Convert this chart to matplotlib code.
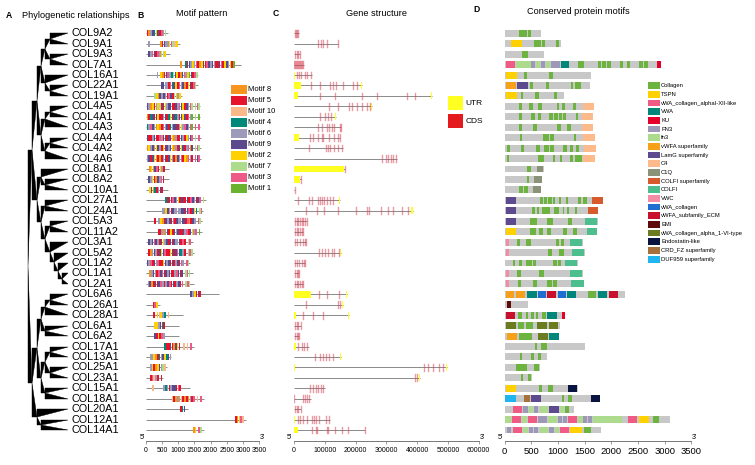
import matplotlib
matplotlib.use("Agg")
import matplotlib.pyplot as plt
from matplotlib.patches import Rectangle, Polygon
from matplotlib import font_manager as fm

# ---------------- data ----------------
genes = ["COL9A2", "COL9A1", "COL9A3", "COL7A1", "COL16A1", "COL22A1", "COL19A1",
         "COL4A5", "COL4A1", "COL4A3", "COL4A4", "COL4A2", "COL4A6", "COL8A1", "COL8A2",
         "COL10A1", "COL27A1", "COL24A1", "COL5A3", "COL11A2", "COL3A1", "COL5A2",
         "COL1A2", "COL1A1", "COL2A1", "COL6A6", "COL26A1", "COL28A1", "COL6A1", "COL6A2",
         "COL17A1", "COL13A1", "COL25A1", "COL23A1", "COL15A1", "COL18A1", "COL20A1",
         "COL12A1", "COL14A1"]

clade_9_16 = ((("COL9A2", "COL9A1"), ("COL9A3", "COL7A1")), ("COL16A1", ("COL22A1", "COL19A1")))
clade_4 = ((("COL4A5", "COL4A1"), "COL4A3"), (("COL4A4", "COL4A2"), "COL4A6"))
clade_8 = ("COL8A1", ("COL8A2", "COL10A1"))
clade_fib = (("COL27A1", "COL24A1"),
             (("COL5A3", "COL11A2"), ("COL3A1", ("COL5A2", ("COL1A2", ("COL1A1", "COL2A1"))))))
clade_6 = ((("COL6A6", "COL26A1"), "COL28A1"), ("COL6A1", "COL6A2"))
clade_13 = ((("COL17A1", "COL13A1"), ("COL25A1", "COL23A1")), ("COL15A1", "COL18A1"))
clade_20 = ("COL20A1", ("COL12A1", "COL14A1"))
tree = (((clade_9_16, clade_4), (clade_8, clade_fib)), ((clade_6, clade_13), clade_20))

protein_len = [690, 1055, 744, 2925, 1619, 1600, 1119, 1681, 1663, 1663, 1690, 1712, 1691,
               730, 703, 680, 1845, 1750, 1745, 1736, 1466, 1499, 1366, 1464, 1487, 2263,
               441, 1140, 1028, 1019, 1497, 790, 654, 520, 1375, 1781, 1294, 3100, 1800]

# motif blocks: (start aa, motif ids in order; '0' = Motif 10, '-' = gap)
motif_blocks = [
    [(30, "58694295367")],
    [(80, "6"), (440, "8596623702")],
    [(80, "9639536272")],
    [(1056, "8"), (1210, "4596263582953969655935296251")],
    [(340, "6"), (450, "285936479258936219537")],
    [(470, "99665349253698529537")],
    [(260, "728969653957262")],
    [(30, "96825627592699559639259637-737")],
    [(30, "85495925569542594659295361-7-1")],
    [(30, "46396828536954699562639631-3-3")],
    [(30, "95569553659595286559652693-7-3")],
    [(30, "82698296525969286592956389-737")],
    [(30, "69592858569592658963528365-393")],
    [(100, "828935265")],
    [(80, "962589635")],
    [(100, "29845695")],
    [(600, "45953962595595396593-7")],
    [(490, "66296596666995935924-73")],
    [(260, "5"), (390, "628596953596699538596-37")],
    [(370, "5568695259695596359263-1")],
    [(80, "969396592695959669535-73")],
    [(80, "586965929355295939465-737")],
    [(30, "963596355296959569536-37")],
    [(110, "8696539359695563959-737")],
    [(60, "69859593656935956953-737")],
    [(1380, "962595")],
    [(215, "532")],
    [(235, "5-20264-0")],
    [(270, "226945")],
    [(260, "952536")],
    [(575, "455958925"), (1150, "0-0-3")],
    [(130, "662854692496")],
    [(130, "625829670")],
    [(130, "53065-5")],
    [(205, "0"), (540, "6465699535")],
    [(800, "0586805858653-0-3")],
    [(1060, "549")],
    [(2750, "58230")],
    [(1460, "82-37")],
]
motif_legend = ["8", "5", "0", "4", "6", "9", "2", "7", "3", "1"]
motif_colors = {"8": "#F7941D", "5": "#E5142C", "0": "#FBB98A", "4": "#00897B",
                "6": "#9E9AB9", "9": "#5A4A8C", "2": "#FFD100", "7": "#ADDC8C",
                "3": "#EE5A88", "1": "#6BB32E"}

# gene structure (bp)
gene_len = [15000, 144000, 20000, 31000, 57000, 222000, 449000, 252000, 136000, 153000,
            150000, 158000, 336000, 166000, 22000, 4000, 150000, 385000, 41000, 28000,
            39000, 153000, 36000, 17000, 30000, 171000, 160000, 180000, 21500, 17000,
            49000, 152000, 498000, 409000, 101000, 54000, 21500, 117000, 230000]
utr_blocks = [
    [], [], [], [], [(0, 3000)], [(0, 23000), (219000, 222000)],
    [(0, 14000), (445000, 449000)], [(249000, 252000)], [(133000, 136000)], [],
    [(0, 17000)], [], [], [(0, 164000)], [(0, 19500)], [], [(147000, 150000)],
    [(381000, 385000)], [], [], [], [(150000, 153000)], [], [], [],
    [(0, 54000), (168000, 171000)], [(157000, 160000)], [(0, 6500), (177000, 180000)],
    [], [], [(0, 6500)], [(149000, 152000)], [(0, 3000), (494000, 498000)],
    [(406000, 409000)], [], [], [], [(0, 4000)], [(0, 14000)]]
exon_marks = [
    [3000, 6500, 11000, 14000],
    [79000, 87000, 95000, 106000, 144000],
    [3000, 9000, 14000, 19500],
    [1000, 4000, 8000, 11000, 14000, 17000, 21000, 24000, 27000, 30000],
    [9000, 17000, 22000, 36000, 43000, 54000],
    [54000, 84000, 117000, 126000, 136000, 160000, 193000, 206000],
    [84000, 133000, 220000, 269000, 366000, 393000],
    [115000, 144000, 180000, 187000, 206000, 220000, 238000, 247000],
    [84000, 101000, 112000, 119000],
    [79000, 90000, 106000, 115000, 122000, 130000, 149000, 153000],
    [52000, 63000, 79000, 90000, 95000, 115000, 130000, 144000, 149000],
    [50000, 103000, 112000, 117000, 130000, 144000, 155000],
    [285000, 299000, 306000, 314000, 323000, 331000],
    [166000],
    [21500],
    [3000],
    [14000, 50000, 57000, 79000, 84000, 92000, 97000, 106000, 117000, 128000],
    [39000, 74000, 97000, 144000, 201000, 238000, 245000, 283000, 304000, 323000, 350000, 371000],
    [3000, 9000, 14000, 19500, 25000, 30000, 36000, 41000],
    [3000, 9000, 14000, 19500, 25000, 28000],
    [3000, 11000, 19500, 28000, 36000, 39000],
    [82000, 90000, 101000, 112000, 122000, 131000, 147000],
    [3000, 11000, 17000, 25000, 32000, 36000],
    [3000, 9000, 14000, 17000],
    [3000, 9000, 14000, 19500, 25000, 30000],
    [82000, 106000, 147000],
    [39000, 144000, 149000],
    [28000, 63000, 93000],
    [3000, 9000, 14000, 21500],
    [3000, 9000, 14000, 17000],
    [14000, 25000, 34000, 41000],
    [68000, 84000, 95000, 104000, 115000, 128000],
    [422000, 436000, 453000, 472000, 485000],
    [393000, 399000],
    [52000, 63000, 71000, 79000, 87000, 95000],
    [1000, 30000, 36000, 43000, 50000],
    [3000, 9000, 14000, 21500],
    [14000, 19500, 30000, 41000, 57000, 65000, 71000, 82000, 104000, 115000],
    [57000, 71000, 76000, 106000, 112000, 133000, 155000, 177000, 230000],
]

# conserved protein domains (aa)
domains = [
    [("Col", 269, 413), ("Col", 431, 488)],
    [("TSPN", 113, 319), ("Col", 556, 675), ("Col", 694, 756), ("Col", 963, 1013)],
    [("Col", 331, 444)],
    [("vXII", 19, 194), ("fn3", 213, 494), ("FN3", 494, 569), ("fn3", 588, 663),
     ("FN3", 675, 756), ("fn3", 775, 850), ("FN3", 863, 1038), ("VWA", 1050, 1213),
     ("Col", 1381, 1494), ("Col", 1744, 1806), ("Col", 1831, 1900), ("Col", 1925, 1988),
     ("Col", 2163, 2225), ("Col", 2288, 2350), ("Col", 2519, 2600), ("Col", 2619, 2681),
     ("KU", 2863, 2925)],
    [("TSPN", 25, 225), ("Col", 369, 425), ("Col", 838, 900)],
    [("vWFA", 19, 213), ("LamG", 238, 431), ("Col", 475, 538), ("Col", 775, 825),
     ("Col", 1244, 1288), ("Col", 1319, 1425)],
    [("TSPN", 25, 238), ("Col", 300, 338), ("Col", 569, 644), ("Col", 931, 975)],
    [("Col", 275, 331), ("Col", 456, 525), ("Col", 619, 694), ("Col", 975, 1025),
     ("Col", 1069, 1131), ("Col", 1288, 1338), ("C4", 1463, 1681)],
    [("Col", 269, 319), ("Col", 500, 569), ("Col", 619, 675), ("Col", 838, 913),
     ("Col", 925, 1006), ("Col", 1019, 1075), ("Col", 1088, 1150), ("Col", 1331, 1381),
     ("C4", 1444, 1663)],
    [("Col", 275, 331), ("Col", 538, 600), ("Col", 988, 1050), ("Col", 1175, 1238),
     ("C4", 1444, 1663)],
    [("Col", 281, 331), ("Col", 725, 838), ("Col", 850, 931), ("Col", 1300, 1338),
     ("C4", 1463, 1690)],
    [("Col", 50, 100), ("Col", 300, 369), ("Col", 581, 663), ("Col", 744, 825),
     ("Col", 850, 925), ("Col", 1100, 1175), ("Col", 1225, 1288), ("Col", 1338, 1400),
     ("C4", 1488, 1712)],
    [("Col", 38, 81), ("Col", 625, 738), ("Col", 900, 944), ("Col", 1038, 1081),
     ("Col", 1225, 1288), ("Col", 1319, 1444), ("C4", 1475, 1691)],
    [("Col", 425, 488), ("C1Q", 600, 725)],
    [("Col", 413, 450), ("C1Q", 556, 694)],
    [("Col", 275, 350), ("Col", 363, 444), ("C1Q", 525, 675)],
    [("LamG", 19, 213), ("Col", 663, 713), ("Col", 744, 800), ("Col", 819, 881),
     ("Col", 913, 950), ("Col", 1019, 1056), ("Col", 1150, 1194), ("Col", 1369, 1425),
     ("Col", 1463, 1538), ("COLFIs", 1631, 1838)],
    [("LamG", 19, 213), ("Col", 506, 569), ("Col", 600, 650), ("Col", 694, 850),
     ("Col", 925, 1025), ("Col", 1088, 1113), ("Col", 1163, 1213), ("Col", 1319, 1363),
     ("COLFIs", 1556, 1750)],
    [("LamG", 19, 213), ("Col", 475, 600), ("Col", 788, 913), ("Col", 1194, 1256),
     ("COLFI", 1506, 1738)],
    [("TSPN", 19, 213), ("Col", 475, 581), ("Col", 644, 725), ("Col", 800, 863),
     ("Col", 1100, 1163), ("Col", 1288, 1363), ("COLFI", 1538, 1725)],
    [("VWC", 19, 75), ("Col", 225, 288), ("Col", 400, 488), ("Col", 956, 1019),
     ("Col", 1050, 1113), ("COLFI", 1225, 1456)],
    [("VWC", 19, 88), ("Col", 806, 894), ("Col", 1025, 1113), ("COLFI", 1256, 1494)],
    [("Col", 150, 200), ("Col", 269, 331), ("Col", 394, 506), ("Col", 525, 588),
     ("Col", 913, 975), ("Col", 994, 1056), ("COLFI", 1131, 1363)],
    [("VWC", 19, 81), ("Col", 225, 306), ("Col", 650, 738), ("COLFI", 1225, 1456)],
    [("VWC", 19, 81), ("Col", 250, 300), ("Col", 538, 600), ("Col", 800, 881),
     ("Col", 913, 975), ("COLFI", 1244, 1481)],
    [("vWFA", 19, 181), ("vWFA", 213, 381), ("VWA", 413, 600), ("vCol", 619, 775),
     ("ECM", 794, 956), ("vCol", 994, 1150), ("VWA", 1175, 1338), ("Col", 1556, 1713),
     ("VWA", 1744, 1913), ("ECM", 1950, 2131)],
    [("EMI", 38, 119)],
    [("ECM", 25, 194), ("Col", 256, 319), ("Col", 394, 431), ("Col", 488, 550),
     ("Col", 588, 631), ("Col", 706, 769), ("VWA", 788, 975), ("KU", 1075, 1140)],
    [("VI", 19, 213), ("Col", 256, 363), ("Col", 400, 538), ("VI", 600, 788),
     ("VI", 825, 994)],
    [("vWFA", 38, 225), ("Col", 263, 506), ("VI", 619, 806), ("VWA", 831, 1019)],
    [("Col", 563, 613), ("Col", 681, 800)],
    [("Col", 288, 331), ("Col", 488, 550), ("Col", 631, 681)],
    [("Col", 213, 413), ("Col", 556, 644)],
    [("Col", 306, 350), ("Col", 431, 488)],
    [("TSPN", 25, 213), ("Col", 644, 694), ("Col", 813, 900), ("Endo", 1194, 1363)],
    [("DUF", 13, 213), ("CRD", 356, 475), ("LamG", 488, 675), ("Col", 1075, 1113),
     ("Col", 1181, 1263), ("Endo", 1613, 1781)],
    [("vXII", 163, 325), ("FN3", 350, 431), ("fn3", 456, 538), ("FN3", 556, 631),
     ("fn3", 663, 819), ("LamG", 831, 1025), ("fn3", 1038, 1113), ("Col", 1131, 1213)],
    [("fn3", 0, 113), ("vXII", 138, 306), ("fn3", 331, 413), ("vXII", 431, 600),
     ("FN3", 619, 800), ("fn3", 819, 975), ("FN3", 994, 1069), ("FN3", 1088, 1175),
     ("vXII", 1194, 1363), ("fn3", 1381, 1463), ("FN3", 1475, 1550), ("FN3", 1569, 1638),
     ("fn3", 1663, 2119), ("fn3", 2131, 2206), ("vXII", 2319, 2488), ("TSPN", 2525, 2713),
     ("Col", 2775, 2900)],
    [("FN3", 38, 119), ("vXII", 150, 319), ("fn3", 338, 431), ("FN3", 463, 525),
     ("FN3", 550, 631), ("fn3", 663, 806), ("FN3", 831, 925), ("fn3", 944, 1019),
     ("vXII", 1038, 1200), ("TSPN", 1225, 1444), ("Col", 1488, 1619)],
]
domain_keys = ["Col", "TSPN", "vXII", "VWA", "KU", "FN3", "fn3", "vWFA", "LamG", "C4",
               "C1Q", "COLFIs", "COLFI", "VWC", "vCol", "ECM", "EMI", "VI", "Endo",
               "CRD", "DUF"]
domain_labels = ["Collagen", "TSPN", "vWA_collagen_alphaI-XII-like", "VWA", "KU", "FN3",
                 "fn3", "vWFA superfamily", "LamG superfamily", "C4", "C1Q",
                 "COLFI superfamily", "COLFI", "VWC", "vWA_collagen", "vWFA_subfamily_ECM",
                 "EMI", "vWA_collagen_alpha_1-VI-type", "Endostatin-like",
                 "CRD_FZ superfamily", "DUF959 superfamily"]
domain_colors = ["#6DB33F", "#FFD100", "#EF5B84", "#00877A", "#E4002B", "#9D97B8",
                 "#ADDB8E", "#F7A11A", "#5E4B8F", "#FDBB8B", "#8A9277", "#D75A2C",
                 "#4DBF8E", "#F48CA6", "#1F6FD0", "#C8102E", "#5C0A0A", "#6B7C20",
                 "#0A1440", "#A8703A", "#20B5EE"]
aa_ticks = [0, 500, 1000, 1500, 2000, 2500, 3000, 3500]
bp_ticks = [0, 100000, 200000, 300000, 400000, 500000, 600000]

# ---------------- layout ----------------
W, H = 755, 465
ROW0, DY = 33.3, 10.44
Y_TOP, Y_BOT = 22, 441
ylim = ((Y_BOT - ROW0) / DY, (Y_TOP - ROW0) / DY)

names = {f.name for f in fm.fontManager.ttflist}
HAS_NARROW = "Liberation Sans Narrow" in names
NARROW = "Liberation Sans Narrow" if HAS_NARROW else "Liberation Sans"
NS = 1.0 if HAS_NARROW else 0.84
SANS = "Liberation Sans"

fig = plt.figure(figsize=(W / 100, H / 100), dpi=100)
fig.patch.set_facecolor("white")


def px_axes(x0, x1):
    return fig.add_axes([x0 / W, 1 - Y_BOT / H, (x1 - x0) / W, (Y_BOT - Y_TOP) / H])


row = {g: i for i, g in enumerate(genes)}

# ---- A: tree ----
axA = px_axes(0, 69)
axA.set_xlim(0, 69)
axA.set_ylim(*ylim)
axA.axis("off")
ROOT_X, STEP, LEAF_X = 28.0, 4.3, 68.0


def draw(node, depth):
    if isinstance(node, str):
        return row[node], LEAF_X
    x = ROOT_X + STEP * depth
    kids = [draw(c, depth + 1) for c in node]
    y = sum(k[0] for k in kids) / len(kids)
    for yc, xc in kids:
        axA.add_patch(Polygon([(x, y), (x, yc), (xc, yc)], closed=True,
                              fc="black", ec="black", lw=0.3))
    return y, x


draw(tree, 0)
for g, i in row.items():
    axA.text(71, i, g, fontsize=7.8, family=SANS, va="center", ha="left",
             clip_on=False)


def style_axis(ax, ticks, labelsize, family, xmax):
    ax.set_xlim(0, xmax)
    ax.set_ylim(*ylim)
    for s in ("top", "left", "right"):
        ax.spines[s].set_visible(False)
    ax.spines["bottom"].set_color("#777777")
    ax.spines["bottom"].set_linewidth(0.7)
    ax.set_yticks([])
    ax.set_xticks(ticks)
    ax.set_xticklabels([str(t) for t in ticks])
    ax.tick_params(axis="x", length=2, width=0.5, color="#777777", pad=2.5,
                   labelsize=labelsize)
    for lbl in ax.get_xticklabels():
        lbl.set_fontfamily(family)
    ax.patch.set_alpha(0)


# ---- B: motif pattern ----
axB = px_axes(145.7, 259.3)
style_axis(axB, aa_ticks, 5.9 * NS, NARROW, 3500)
MOTIF_STEP, MOTIF_W = 55, 49
for i, (L, blocks) in enumerate(zip(protein_len, motif_blocks)):
    axB.plot([0, L], [i, i], color="#8c8c8c", lw=0.7, solid_capstyle="butt", zorder=1)
    for start, seq in blocks:
        for j, ch in enumerate(seq):
            if ch == "-":
                continue
            axB.add_patch(Rectangle((start + j * MOTIF_STEP, i - 0.3), MOTIF_W, 0.6,
                                    fc=motif_colors[ch], lw=0, zorder=2))

# ---- C: gene structure ----
axC = px_axes(294, 478.7)
style_axis(axC, bp_ticks, 6.0 * NS, NARROW, 600000)
for i, (L, utrs, exs) in enumerate(zip(gene_len, utr_blocks, exon_marks)):
    axC.plot([0, L], [i, i], color="#8a8a8a", lw=0.7, solid_capstyle="butt", zorder=1)
    for s, e in utrs:
        axC.add_patch(Rectangle((s, i - 0.33), max(e - s, 1500), 0.66, fc="#FFFF22",
                                lw=0, zorder=2))
    for x in exs:
        axC.plot([x, x], [i - 0.32, i + 0.32], color="#D8485A", lw=1.0, alpha=0.55,
                 zorder=3)

# ---- D: conserved protein motifs ----
axD = px_axes(504.7, 691.3)
style_axis(axD, aa_ticks, 6.8, SANS, 3500)
dcol = dict(zip(domain_keys, domain_colors))
for i, (L, doms) in enumerate(zip(protein_len, domains)):
    axD.add_patch(Rectangle((0, i - 0.33), L, 0.66, fc="#C8C8C8", lw=0, zorder=1))
    for k, s, e in doms:
        axD.add_patch(Rectangle((s, i - 0.33), e - s, 0.66, fc=dcol[k], lw=0, zorder=2))

# ---- overlay: titles, legends, 5'/3' ----
ov = fig.add_axes([0, 0, 1, 1])
ov.set_xlim(0, W)
ov.set_ylim(H, 0)
ov.axis("off")
ov.patch.set_alpha(0)

title_kw = dict(family=NARROW, fontsize=7.8 * NS, va="center", ha="center")
ov.text(76, 15, "Phylogenetic relationships", **title_kw)
ov.text(202, 14, "Motif pattern", **title_kw)
ov.text(376, 13, "Gene structure", **title_kw)
ov.text(578, 12, "Conserved protein motifs", **title_kw)
for x, y, s in [(9, 16, "A"), (140, 16, "B"), (276, 13, "C"), (477, 10, "D")]:
    ov.text(x, y, s, family=SANS, fontsize=6.2, fontweight="bold", va="center",
            ha="center")

for x, s in [(142, "5'"), (262, "3'"), (289, "5'"), (482, "3'"), (500, "5'"), (694, "3'")]:
    ov.text(x, 437, s, family=NARROW, fontsize=6.2 * NS, va="center", ha="center")

# motif legend
for k, key in enumerate(motif_legend):
    y = 85 + k * 11
    ov.add_patch(Rectangle((230.7, y), 16, 9, fc=motif_colors[key], lw=0))
    ov.text(248.5, y + 4.7, "Motif " + ("10" if key == "0" else key), family=NARROW,
            fontsize=6.6 * NS, va="center", ha="left")

# UTR / CDS legend
for y, c, s in [(96, "#FFFF22", "UTR"), (114, "#E41A1C", "CDS")]:
    ov.add_patch(Rectangle((447.7, y), 15.6, 14, fc=c, lw=0))
    ov.text(465.7, y + 7, s, family=NARROW, fontsize=7.2 * NS, va="center", ha="left")

# domain legend
for k, (lab, c) in enumerate(zip(domain_labels, domain_colors)):
    yc = 85.7 + k * 8.67
    ov.add_patch(Rectangle((647.5, yc - 3.4), 12.5, 6.8, fc=c, lw=0))
    ov.text(661, yc, lab, family=NARROW, fontsize=5.0 * NS, va="center", ha="left")

fig.savefig("out.png", dpi=100, facecolor="white")
